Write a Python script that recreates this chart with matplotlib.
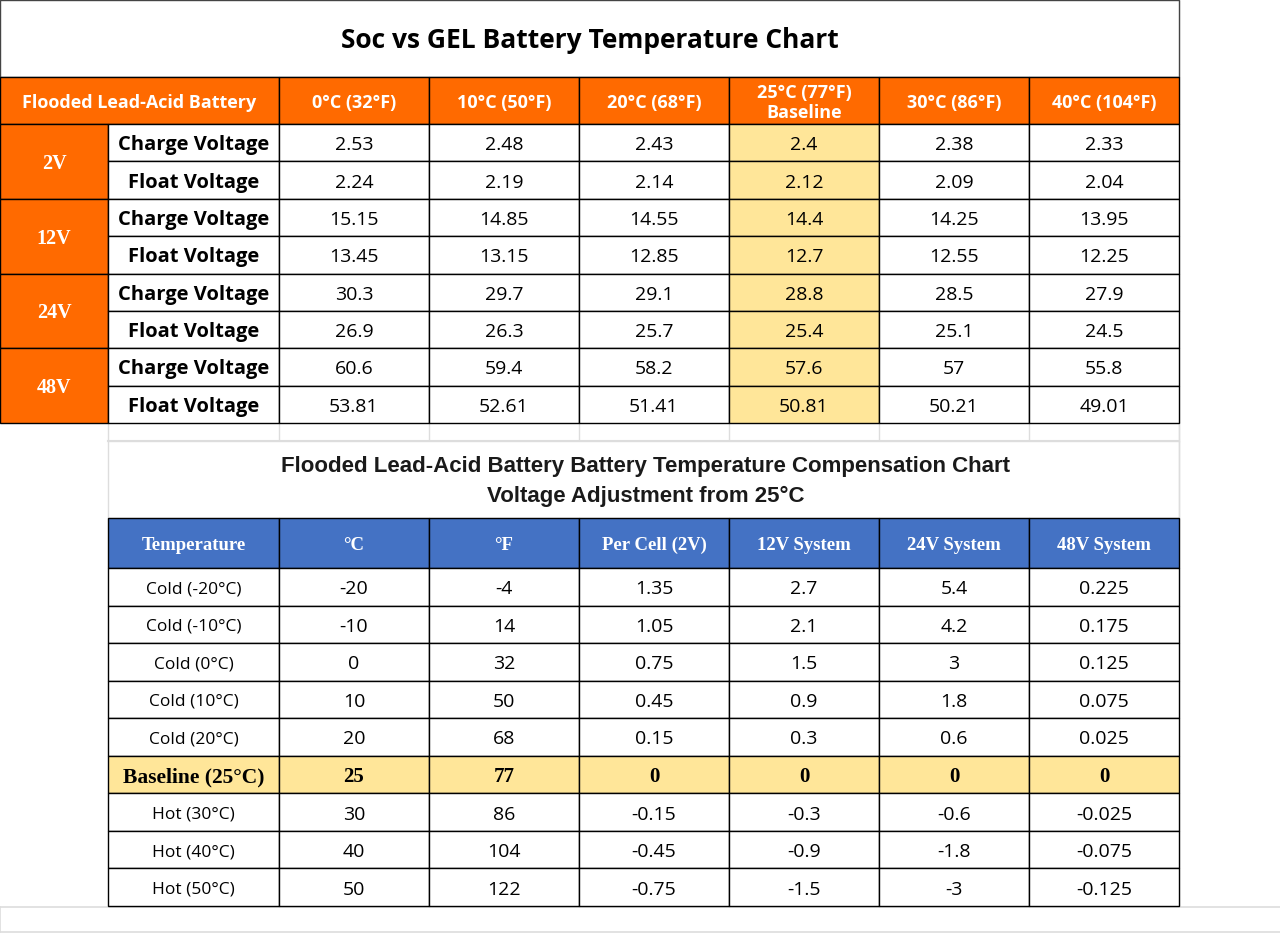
"""GEL battery temperature chart, drawn as two tables with matplotlib."""

import matplotlib.pyplot as plt
from matplotlib.patches import Rectangle

# ---- data -------------------------------------------------------------
title = "Soc vs GEL Battery Temperature Chart"
corner_label = "Flooded Lead-Acid Battery"
temp_headers = ["0°C (32°F)", "10°C (50°F)", "20°C (68°F)",
                "25°C (77°F)\nBaseline", "30°C (86°F)", "40°C (104°F)"]
systems = ["2V", "12V", "24V", "48V"]
voltage_kinds = ["Charge Voltage", "Float Voltage"]
charge_voltage = [
    [2.53, 2.48, 2.43, 2.4, 2.38, 2.33],
    [15.15, 14.85, 14.55, 14.4, 14.25, 13.95],
    [30.3, 29.7, 29.1, 28.8, 28.5, 27.9],
    [60.6, 59.4, 58.2, 57.6, 57, 55.8],
]
float_voltage = [
    [2.24, 2.19, 2.14, 2.12, 2.09, 2.04],
    [13.45, 13.15, 12.85, 12.7, 12.55, 12.25],
    [26.9, 26.3, 25.7, 25.4, 25.1, 24.5],
    [53.81, 52.61, 51.41, 50.81, 50.21, 49.01],
]
baseline_col = 3

comp_title = ("Flooded Lead-Acid Battery Battery Temperature Compensation Chart\n"
              "Voltage Adjustment from 25°C")
comp_headers = ["Temperature", "°C", "°F", "Per Cell (2V)",
                "12V System", "24V System", "48V System"]
comp_labels = ["Cold (-20°C)", "Cold (-10°C)", "Cold (0°C)", "Cold (10°C)",
               "Cold (20°C)", "Baseline (25°C)", "Hot (30°C)", "Hot (40°C)",
               "Hot (50°C)"]
deg_c = [-20, -10, 0, 10, 20, 25, 30, 40, 50]
deg_f = [-4, 14, 32, 50, 68, 77, 86, 104, 122]
per_cell = [1.35, 1.05, 0.75, 0.45, 0.15, 0, -0.15, -0.45, -0.75]
adj_12v = [2.7, 2.1, 1.5, 0.9, 0.3, 0, -0.3, -0.9, -1.5]
adj_24v = [5.4, 4.2, 3, 1.8, 0.6, 0, -0.6, -1.8, -3]
adj_48v = [0.225, 0.175, 0.125, 0.075, 0.025, 0, -0.025, -0.075, -0.125]
baseline_row = 5

# ---- layout / style ---------------------------------------------------
ORANGE = "#FF6A00"
YELLOW = "#FFE699"
BLUE = "#4472C4"
LIGHT = "#DDDDDD"
SANS = "Open Sans"
ARIAL = "Liberation Sans"
SERIF = "Liberation Serif"

col_edges = [0, 108, 279, 429, 579, 729, 879, 1029, 1179]
W, H = 1280, 934
TEXT_DY = 2.5  # text sits a bit below the cell centre in the original


def fmt(v):
    return f"{v:g}"


def cell(ax, x0, y0, x1, y1, text="", face="white", color="black",
         size=12, weight="normal", family=SANS, edge="black", lw=1.0,
         spacing=0.95):
    ax.add_patch(Rectangle((x0, y0), x1 - x0, y1 - y0, facecolor=face,
                           edgecolor=edge, linewidth=lw, zorder=1))
    if text:
        ax.text((x0 + x1) / 2, (y0 + y1) / 2 + TEXT_DY, text, ha="center",
                va="center", color=color, fontsize=size, fontweight=weight,
                family=family, linespacing=spacing, zorder=3)


fig = plt.figure(figsize=(W / 100, H / 100), dpi=100)
ax = fig.add_axes([0, 0, 1, 1])
ax.set_xlim(0, W)
ax.set_ylim(H, 0)
ax.axis("off")

# ---- top table ----------------------------------------------------------
cell(ax, 0, 0, col_edges[-1], 77, title, size=19, weight="bold", edge="#444444")

hdr_top, hdr_bot = 77, 124
cell(ax, col_edges[0], hdr_top, col_edges[2], hdr_bot, corner_label,
     face=ORANGE, color="white", size=13, weight="bold")
for i, h in enumerate(temp_headers):
    cell(ax, col_edges[i + 2], hdr_top, col_edges[i + 3], hdr_bot, h,
         face=ORANGE, color="white", size=13, weight="bold", spacing=1.1)

row_h = (423 - hdr_bot) / (len(systems) * 2)
for s, name in enumerate(systems):
    g0 = hdr_bot + s * 2 * row_h
    cell(ax, col_edges[0], g0, col_edges[1], g0 + 2 * row_h, name,
         face=ORANGE, color="white", size=14.5, weight="bold", family=SERIF)
    for k, (kind, vals) in enumerate(zip(voltage_kinds,
                                         [charge_voltage[s], float_voltage[s]])):
        r0 = g0 + k * row_h
        cell(ax, col_edges[1], r0, col_edges[2], r0 + row_h, kind,
             size=14.5, weight="bold")
        for i, v in enumerate(vals):
            face = YELLOW if i == baseline_col else "white"
            cell(ax, col_edges[i + 2], r0, col_edges[i + 3], r0 + row_h,
                 fmt(v), face=face, size=14)

# spreadsheet-like gap row
gap_top, gap_bot = 423, 441
for x in col_edges[1:]:
    ax.plot([x, x], [gap_top, gap_bot], color=LIGHT, lw=1, zorder=0)
ax.plot([col_edges[1], col_edges[-1]], [gap_bot, gap_bot], color=LIGHT, lw=1.5, zorder=0)

# ---- compensation table ----------------------------------------------
ct_top, ct_bot = 441, 518
ax.add_patch(Rectangle((col_edges[1], ct_top), col_edges[-1] - col_edges[1],
                       ct_bot - ct_top, facecolor="white", edgecolor=LIGHT,
                       linewidth=1, zorder=0))
ax.text((col_edges[1] + col_edges[-1]) / 2 + 2, (ct_top + ct_bot) / 2 + 2, comp_title,
        ha="center", va="center", fontsize=16, fontweight="bold", family=ARIAL,
        color="#1a1a1a", linespacing=1.55)

bh_top, bh_bot = 518, 568
for i, h in enumerate(comp_headers):
    cell(ax, col_edges[i + 1], bh_top, col_edges[i + 2], bh_bot, h,
         face=BLUE, color="white", size=13.5, weight="bold", family=SERIF)

columns = [deg_c, deg_f, per_cell, adj_12v, adj_24v, adj_48v]
comp_row_h = (906 - bh_bot) / len(comp_labels)
for r, label in enumerate(comp_labels):
    r0 = bh_bot + r * comp_row_h
    base = r == baseline_row
    face = YELLOW if base else "white"
    cell(ax, col_edges[1], r0, col_edges[2], r0 + comp_row_h, label, face=face,
         size=15.5 if base else 12.5, weight="bold" if base else "normal",
         family=SERIF if base else SANS)
    for c, col in enumerate(columns):
        cell(ax, col_edges[c + 2], r0, col_edges[c + 3], r0 + comp_row_h,
             fmt(col[r]), face=face, size=15 if base else 14,
             weight="bold" if base else "normal",
             family=SERIF if base else SANS)

# faint sheet lines at the bottom and right
ax.plot([0, W], [907, 907], color=LIGHT, lw=1.2, zorder=0)
ax.plot([0, W], [932, 932], color=LIGHT, lw=1.2, zorder=0)
ax.plot([0, 0], [907, 932], color=LIGHT, lw=1.2, zorder=0)
ax.plot([col_edges[-1], col_edges[-1]], [0, 906], color=LIGHT, lw=1, zorder=0)

fig.savefig("out.png", dpi=100, facecolor="white")
